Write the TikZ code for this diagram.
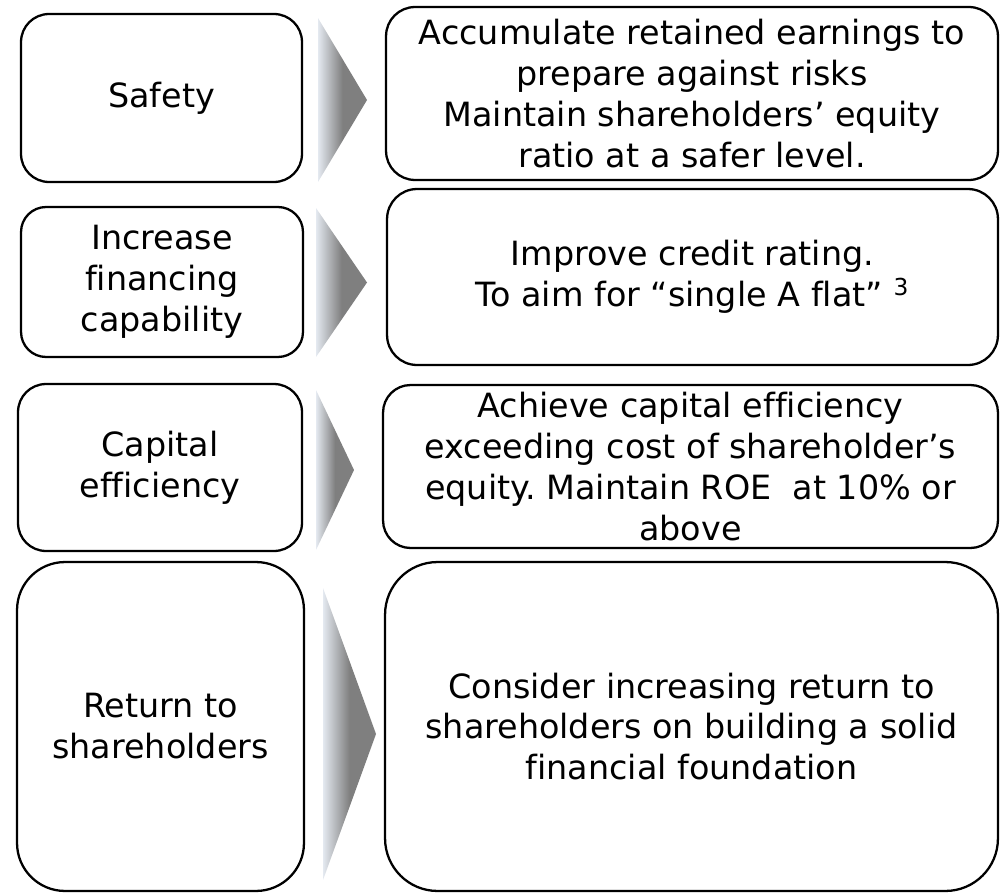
\documentclass[tikz,border=0pt]{standalone}
\usepackage{fontspec}
\setmainfont[Ligatures={NoCommon}]{DejaVu Sans}
\frenchspacing
\definecolor{chevlight}{HTML}{E4E9F0}
\definecolor{chevgray}{HTML}{7F7F7F}
\tikzset{
  box/.style={draw=black, line width=1.3pt, rectangle, align=center, inner sep=0pt,
    font=\fontsize{19pt}{23.3pt}\selectfont},
  chevron/.style={left color=chevlight, right color=chevgray, middle color=chevgray, draw=none}
}
\begin{document}
\begin{tikzpicture}[x=0.02cm, y=-0.02cm]
  \useasboundingbox (0,0) rectangle (1000,892);
  % goals on the left
  \node[box, minimum width=5.62cm, minimum height=3.36cm, rounded corners=0.56cm] (safety) at (161.5,98) {Safety};
  \node[box, minimum width=5.64cm, minimum height=3.00cm, rounded corners=0.50cm] (financing) at (162,282) {Increase\\financing\\capability};
  \node[box, minimum width=5.68cm, minimum height=3.34cm, rounded corners=0.56cm] (capital) at (160,467.5) {Capital\\efficiency};
  \node[box, minimum width=5.74cm, minimum height=6.58cm, rounded corners=0.96cm] (return) at (160.5,726.5) {Return to\\shareholders};
  % chevrons between the columns
  \foreach \l/\t/\b/\r in {318/18/182/367, 316/208/357/367, 316/390/550/354, 323/588/880/376}
    \shade[chevron] (\l,\t) -- (\r,{(\t+\b)/2}) -- (\l,\b) -- cycle;
  % policies on the right
  \node[box, minimum width=12.24cm, minimum height=3.46cm, rounded corners=0.58cm] (accumulate) at (692,93.5)
    {Accumulate retained earnings to\\prepare against risks\\Maintain shareholders’ equity\\ratio at a safer level.};
  \node[box, minimum width=12.22cm, minimum height=3.52cm, rounded corners=0.60cm] (rating) at (692.5,277)
    {Improve credit rating.\\To aim for “single A flat” \textsuperscript{3}};
  \node[box, minimum width=12.30cm, minimum height=3.26cm, rounded corners=0.55cm] (roe) at (690.5,466.5)
    {Achieve capital efficiency\\exceeding cost of shareholder’s\\equity. Maintain ROE\ \ at 10\% or\\above};
  \node[box, minimum width=12.26cm, minimum height=6.58cm, rounded corners=1.05cm] (foundation) at (691.5,726.5)
    {Consider increasing return to\\shareholders on building a solid\\financial foundation};
\end{tikzpicture}
\end{document}
